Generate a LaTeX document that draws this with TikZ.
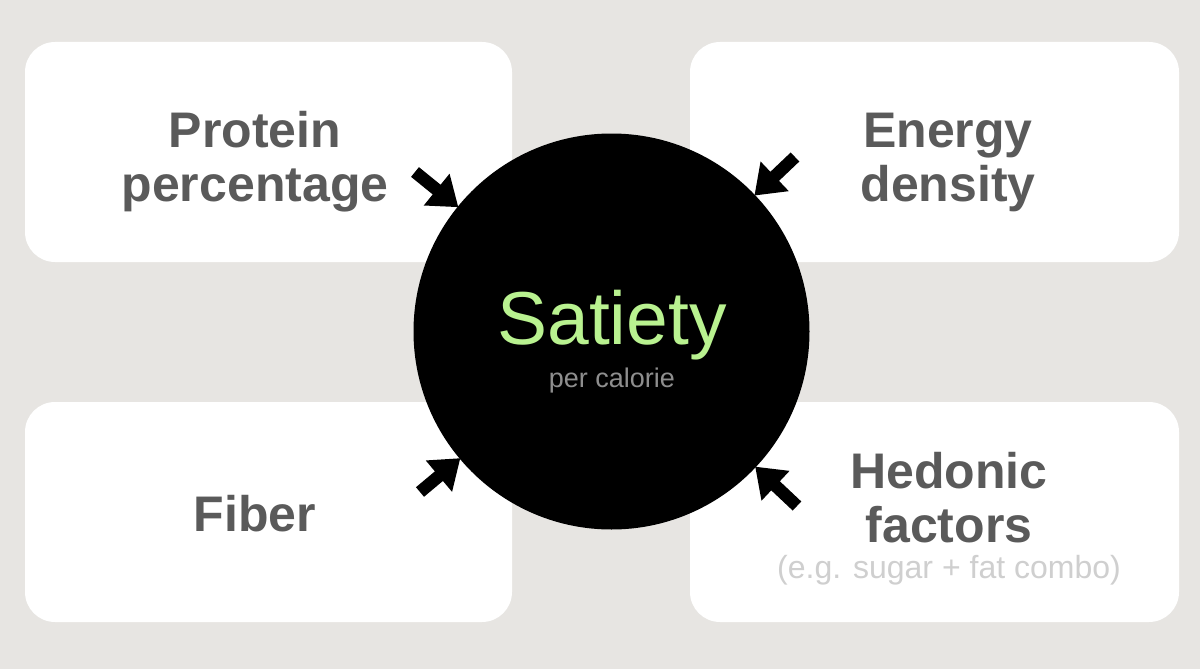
\documentclass[tikz,border=0pt]{standalone}
\usepackage{fontspec}
\setmainfont{Liberation Sans}
\usetikzlibrary{arrows.meta}
\definecolor{bgc}{HTML}{E7E5E2}
\definecolor{labc}{HTML}{5A5A5A}
\definecolor{satc}{HTML}{B9F290}
\definecolor{subc}{HTML}{8E8E8E}
\definecolor{notec}{HTML}{CFCFCF}
\tikzset{
  card/.style={fill=white, draw=none, rounded corners=30pt},
  lab/.style={text=labc, font=\fontsize{50}{54}\selectfont\bfseries, align=center, inner sep=0pt, anchor=base},
  arr/.style={line width=12.5pt, -{Triangle[length=28pt,width=39pt]}, shorten >=-1pt},
}
\begin{document}
\begin{tikzpicture}[x=1pt,y=-1pt]
\fill[bgc] (0,0) rectangle (1200,669);
\useasboundingbox (0,0) rectangle (1200,669);
% cards
\path[card] (25,42) rectangle (512,262);
\path[card] (690,42) rectangle (1179,262);
\path[card] (25,402) rectangle (512,622);
\path[card] (690,402) rectangle (1179,622);
% labels
\node[lab] (protein) at (255,147) {Protein};
\node[lab] (percentage) at (255,201) {percentage};
\node[lab] (energy) at (948,147) {Energy};
\node[lab] (density) at (948,201) {density};
\node[lab] (fiber) at (255,531) {Fiber};
\node[lab] (hedonic) at (949,488) {Hedonic};
\node[lab] (factors) at (949,542) {factors};
\node[text=notec, font=\fontsize{32}{35}\selectfont, inner sep=0pt, anchor=base] (eg) at (949,578) {(e.g. sugar + fat combo)};
% center circle
\node[circle, fill=black, minimum size=396pt, inner sep=0pt] (sat) at (611.5,331.5) {};
\node[text=satc, font=\fontsize{75}{80}\selectfont, inner sep=0pt, anchor=base] (satiety) at (612,344) {Satiety};
\node[text=subc, font=\fontsize{27}{30}\selectfont, inner sep=0pt, anchor=base] (percal) at (612,387) {per calorie};
% arrows
\coordinate (ttl) at (415,172);
\coordinate (ttr) at (795,157);
\coordinate (tbl) at (420,492);
\coordinate (tbr) at (797,506);
\draw[arr] (ttl) -- (sat);
\draw[arr] (ttr) -- (sat);
\draw[arr] (tbl) -- (sat);
\draw[arr] (tbr) -- (sat);
\end{tikzpicture}
\end{document}
